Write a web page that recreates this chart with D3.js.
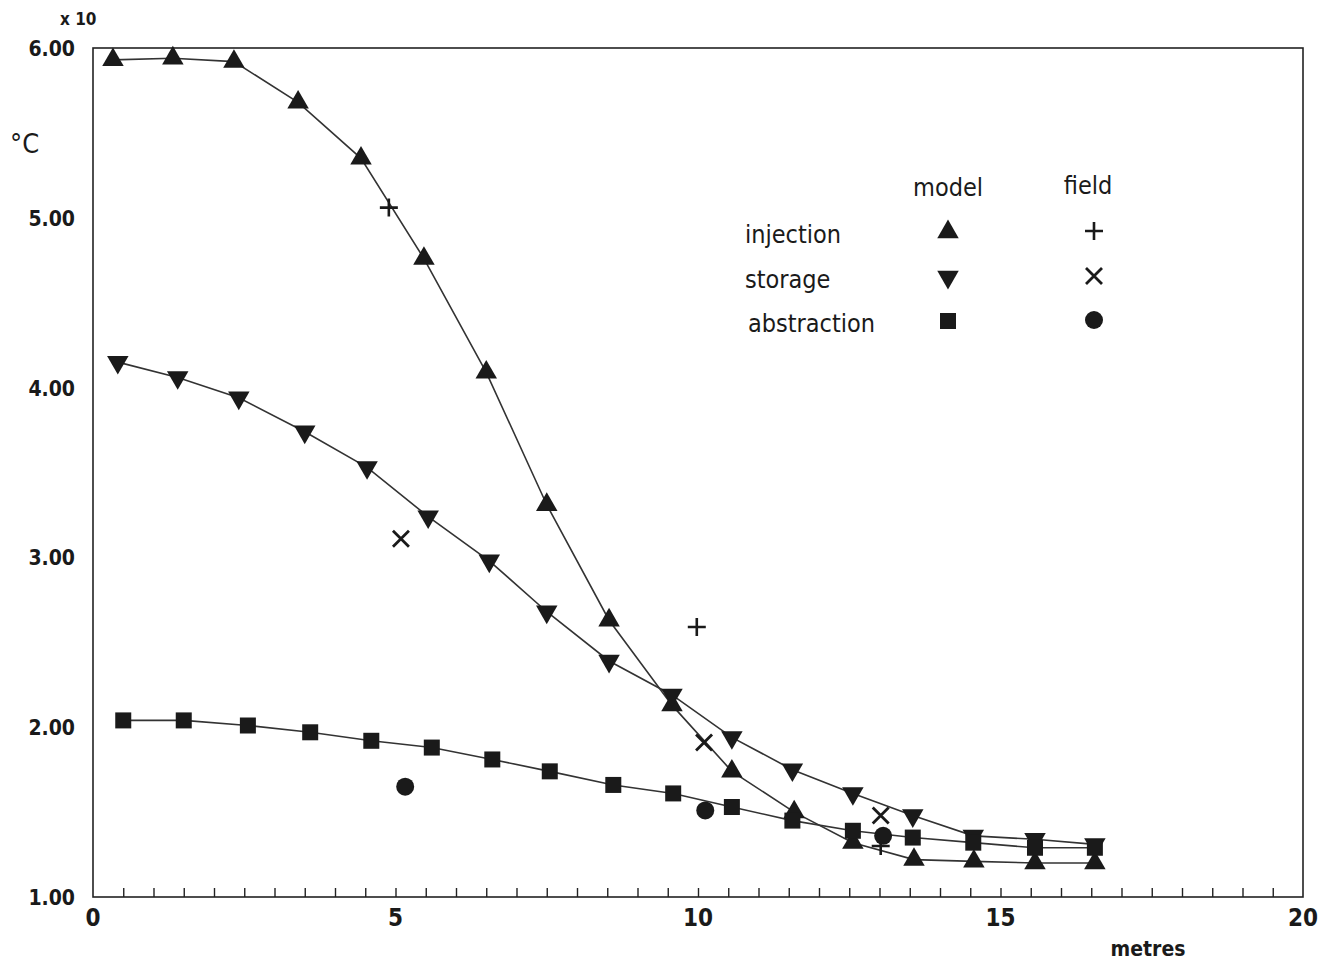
<!DOCTYPE html>
<html>
<head>
<meta charset="utf-8">
<script src="https://cdn.jsdelivr.net/npm/d3@7"></script>
<style>
  body { margin: 0; background: #fff; }
  svg { display: block; }
  text { font-family: "Liberation Sans Narrow", "DejaVu Sans Condensed", "Roboto", sans-serif; fill: #1a1a1a; }
</style>
</head>
<body>
<script>
// afstand (m) en temperatuur (x10 °C) van de modelpunten
const injX = [0.33, 1.32, 2.33, 3.39, 4.43, 5.47, 6.5, 7.5, 8.53, 9.57, 10.56, 11.59, 12.56, 13.57, 14.56, 15.57, 16.56]
const injY = [5.93, 5.94, 5.92, 5.68, 5.35, 4.76, 4.09, 3.31, 2.63, 2.13, 1.74, 1.5, 1.32, 1.22, 1.21, 1.2, 1.2]
const stoX = [0.41, 1.4, 2.41, 3.5, 4.53, 5.54, 6.55, 7.5, 8.53, 9.57, 10.56, 11.56, 12.56, 13.55, 14.55, 15.57, 16.56]
const stoY = [4.15, 4.06, 3.94, 3.74, 3.53, 3.24, 2.98, 2.68, 2.39, 2.19, 1.94, 1.75, 1.61, 1.48, 1.36, 1.34, 1.31]
const absX = [0.5, 1.5, 2.56, 3.59, 4.6, 5.6, 6.6, 7.55, 8.6, 9.59, 10.56, 11.56, 12.56, 13.55, 14.55, 15.57, 16.56]
const absY = [2.04, 2.04, 2.01, 1.97, 1.92, 1.88, 1.81, 1.74, 1.66, 1.61, 1.53, 1.45, 1.39, 1.35, 1.32, 1.29, 1.29]

// veldmetingen
const fInjX = [4.89, 9.98, 13.02]
const fInjY = [5.06, 2.59, 1.3]
const fStoX = [5.09, 10.1, 13.02]
const fStoY = [3.11, 1.91, 1.48]
const fAbsX = [5.16, 10.12, 13.06]
const fAbsY = [1.65, 1.51, 1.36]

const yTicks = [1, 2, 3, 4, 5, 6]
const xTicks = [0, 5, 10, 15, 20]

const width = 1327
const height = 964

const svg = d3.select('body').append('svg').attr('width', width).attr('height', height)

const x = d3.scaleLinear().domain([0, 20]).range([93, 1303])
const y = d3.scaleLinear().domain([1, 6]).range([897, 48])

// kader
svg.append('rect')
	.attr('x', x(0)).attr('y', y(6))
	.attr('width', x(20) - x(0)).attr('height', y(1) - y(6))
	.attr('fill', 'none').attr('stroke', '#222').attr('stroke-width', 1.6)

// kleine streepjes op de x as, naar binnen
const minor = d3.range(1, 40).map(d => d / 2)
svg.append('g')
	.attr('transform', `translate(0,${y(1)})`)
	.call(d3.axisBottom(x).tickValues(minor).tickSize(-9).tickFormat(''))
	.call(g => g.select('.domain').remove())
	.call(g => g.selectAll('line').attr('stroke', '#222').attr('stroke-width', 1.4))

// labels x as
svg.append('g').selectAll('text').data(xTicks).join('text')
	.attr('x', d => x(d)).attr('y', 926)
	.attr('text-anchor', 'middle')
	.style('font-size', '24px').style('font-weight', 'bold')
	.text(d => d)

// labels y as
svg.append('g').selectAll('text').data(yTicks).join('text')
	.attr('x', 75).attr('y', d => y(d) + 8)
	.attr('text-anchor', 'end')
	.style('font-size', '21px').style('font-weight', 'bold')
	.text(d => d.toFixed(2))

svg.append('text').attr('x', 60).attr('y', 25).style('font-size', '17px').style('font-weight', 'bold').text('x 10')
svg.append('text').attr('x', 10).attr('y', 153).style('font-size', '27px').text('°C')
svg.append('text').attr('x', 1148).attr('y', 956).attr('text-anchor', 'middle')
	.style('font-size', '21px').style('font-weight', 'bold').text('metres')

// lijnen van het model
const line = d3.line().x(d => x(d[0])).y(d => y(d[1]))
const series = [
	{ xs: injX, ys: injY, sym: 'up' },
	{ xs: stoX, ys: stoY, sym: 'down' },
	{ xs: absX, ys: absY, sym: 'square' }
]
series.forEach(s => {
	const pts = s.xs.map((v, i) => [v, s.ys[i]])
	svg.append('path').datum(pts)
		.attr('d', line)
		.attr('fill', 'none').attr('stroke', '#333').attr('stroke-width', 1.6)
})

// symbolen tekenen
function marker(g, type, cx, cy) {
	if (type === 'up') {
		g.append('path').attr('d', d3.symbol(d3.symbolTriangle, 200)())
			.attr('transform', `translate(${cx},${cy})`).attr('fill', '#1a1a1a')
	} else if (type === 'down') {
		g.append('path').attr('d', d3.symbol(d3.symbolTriangle, 200)())
			.attr('transform', `translate(${cx},${cy}) rotate(180)`).attr('fill', '#1a1a1a')
	} else if (type === 'square') {
		g.append('rect').attr('x', cx - 8).attr('y', cy - 8).attr('width', 16).attr('height', 16).attr('fill', '#1a1a1a')
	} else if (type === 'plus') {
		g.append('path').attr('d', `M${cx - 9},${cy}H${cx + 9}M${cx},${cy - 9}V${cy + 9}`)
			.attr('stroke', '#1a1a1a').attr('stroke-width', 2.6)
	} else if (type === 'cross') {
		g.append('path').attr('d', `M${cx - 8},${cy - 8}L${cx + 8},${cy + 8}M${cx - 8},${cy + 8}L${cx + 8},${cy - 8}`)
			.attr('stroke', '#1a1a1a').attr('stroke-width', 2.8)
	} else if (type === 'circle') {
		g.append('circle').attr('cx', cx).attr('cy', cy).attr('r', 9).attr('fill', '#1a1a1a')
	}
}

const gm = svg.append('g')
series.forEach(s => {
	s.xs.forEach((v, i) => marker(gm, s.sym, x(v), y(s.ys[i])))
})

const field = [
	{ xs: fInjX, ys: fInjY, sym: 'plus' },
	{ xs: fStoX, ys: fStoY, sym: 'cross' },
	{ xs: fAbsX, ys: fAbsY, sym: 'circle' }
]
const gf = svg.append('g')
field.forEach(s => {
	s.xs.forEach((v, i) => marker(gf, s.sym, x(v), y(s.ys[i])))
})

// legenda
const leg = svg.append('g')
leg.append('text').attr('x', 948).attr('y', 196).attr('text-anchor', 'middle').style('font-size', '25px').style('font-weight', '500').text('model')
leg.append('text').attr('x', 1088).attr('y', 194).attr('text-anchor', 'middle').style('font-size', '25px').style('font-weight', '500').text('field')
const names = ['injection', 'storage', 'abstraction']
const legY = [233, 278, 322]
names.forEach((n, i) => {
	leg.append('text').attr('x', 745 + (i === 2 ? 3 : 0)).attr('y', legY[i] + 10)
		.style('font-size', '25px').style('font-weight', '500').text(n)
	marker(leg, series[i].sym, 948, legY[i] - 1)
	marker(leg, field[i].sym, 1094, legY[i] - 2)
})
</script>
</body>
</html>
